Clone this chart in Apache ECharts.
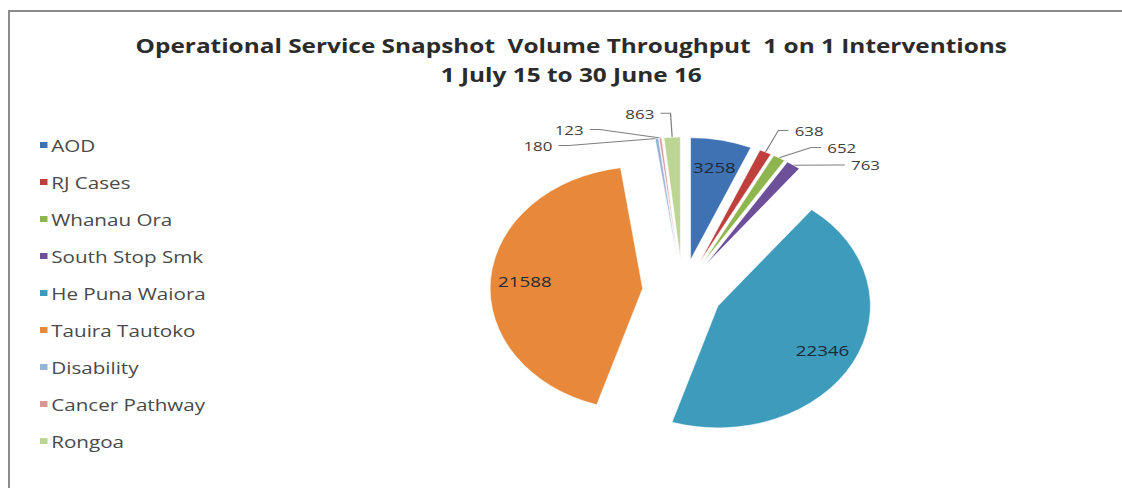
<!DOCTYPE html>
<html>
<head>
<meta charset="utf-8">
<script src="https://cdn.jsdelivr.net/npm/echarts@6/dist/echarts.min.js"></script>
<style>
  html, body { margin: 0; padding: 0; background: #ffffff; overflow: hidden; }
  #wrap { position: absolute; left: 0; top: 0; width: 1122px; height: 488px; overflow: hidden; background: #fff; }
  #chart { position: absolute; left: 0; top: 0; width: 898px; height: 488px; transform: scaleX(1.25); transform-origin: 0 0; }
  #frame { position: absolute; left: 8px; top: 10px; width: 1120px; height: 490px; border-top: 2px solid #8c8c8c; border-left: 2px solid #8c8c8c; pointer-events: none; }
</style>
</head>
<body>
<div id="wrap">
  <div id="chart"></div>
  <div id="frame"></div>
</div>
<script>
const titleLines = ['Operational Service Snapshot  Volume Throughput  1 on 1 Interventions', '1 July 15 to 30 June 16'];
const categories = ['AOD', 'RJ Cases', 'Whanau Ora', 'South Stop Smk', 'He Puna Waiora', 'Tauira Tautoko', 'Disability', 'Cancer Pathway', 'Rongoa'];
const values = [3258, 638, 652, 763, 22346, 21588, 180, 123, 863];
const colors = ['#3f72b3', '#be3f3c', '#8fb54e', '#6e4f9a', '#3d9bbb', '#e8883a', '#97b3d8', '#d99694', '#bcd592'];
const insideLabelNames = ['AOD', 'He Puna Waiora', 'Tauira Tautoko'];

const chart = echarts.init(document.getElementById('chart'), null, { renderer: 'svg' });

const center = [546, 291];
const R = 122;
const explode = 32;

const mainData = categories.map((name, i) => {
  const inside = insideLabelNames.indexOf(name) >= 0;
  return {
    name: name,
    value: values[i],
    selected: true,
    itemStyle: { color: colors[i] },
    label: { show: !inside },
    labelLine: { show: !inside }
  };
});

const ringData = categories.map((name, i) => {
  const inside = insideLabelNames.indexOf(name) >= 0;
  return {
    name: name,
    value: values[i],
    selected: true,
    itemStyle: { color: 'rgba(0,0,0,0)' },
    label: { show: inside }
  };
});

chart.setOption({
  animation: false,
  backgroundColor: '#ffffff',
  title: {
    text: titleLines.join('\n'),
    left: 457,
    top: 31,
    padding: 0,
    textAlign: 'center',
    textStyle: {
      fontFamily: 'Open Sans',
      fontWeight: 'bold',
      fontSize: 19.5,
      lineHeight: 29,
      color: '#2b2b2b'
    }
  },
  legend: {
    orient: 'vertical',
    left: 30,
    top: 136,
    padding: 0,
    data: categories,
    icon: 'rect',
    itemWidth: 8,
    itemHeight: 8,
    itemGap: 19,
    selectedMode: false,
    textStyle: {
      fontFamily: 'Open Sans',
      fontSize: 16.5,
      lineHeight: 18,
      color: '#4a4a4a',
      padding: [0, 0, 0, -3]
    }
  },
  series: [
    {
      type: 'pie',
      name: 'main',
      center: center,
      radius: [0, R],
      startAngle: 90,
      clockwise: true,
      selectedMode: 'multiple',
      selectedOffset: explode,
      avoidLabelOverlap: true,
      silent: true,
      itemStyle: { borderColor: '#ffffff', borderWidth: 0.5 },
      label: {
        position: 'outside',
        formatter: '{c}',
        fontFamily: 'Open Sans',
        fontSize: 13.5,
        color: '#404040'
      },
      labelLine: {
        length: 24,
        length2: 8,
        lineStyle: { color: '#7f7f7f', width: 1 }
      },
      emphasis: { disabled: true },
      data: mainData
    },
    {
      type: 'pie',
      name: 'labels',
      center: center,
      radius: [R * 0.5, R],
      startAngle: 90,
      clockwise: true,
      selectedMode: 'multiple',
      selectedOffset: explode,
      silent: true,
      legendHoverLink: false,
      label: {
        position: 'inside',
        formatter: '{c}',
        fontFamily: 'Open Sans',
        fontSize: 15,
        color: '#1f2a38'
      },
      labelLine: { show: false },
      emphasis: { disabled: true },
      data: ringData
    }
  ]
});
</script>
</body>
</html>
